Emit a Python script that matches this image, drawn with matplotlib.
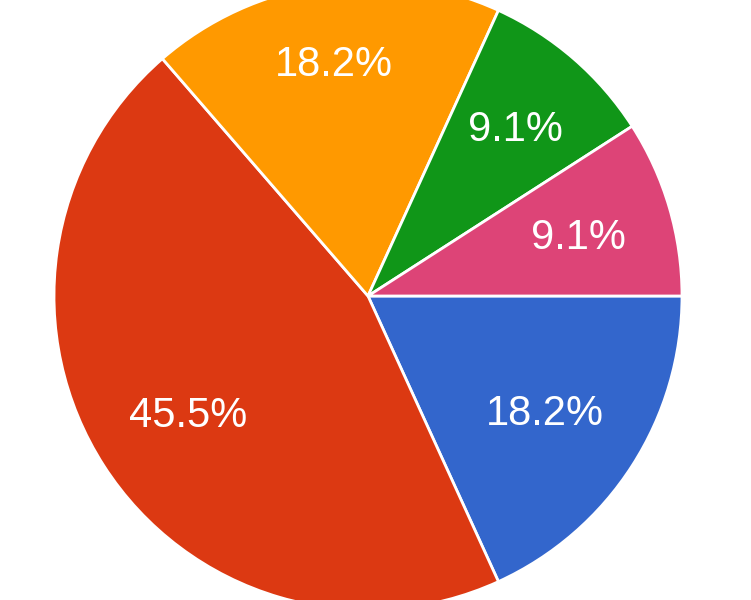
import numpy as np
import matplotlib.pyplot as plt

# slices, clockwise from 3 o'clock
labels = ["A", "B", "C", "D", "E"]
values = [2, 5, 2, 1, 1]
colors = ["#3366CC", "#DC3912", "#FF9900", "#109618", "#DD4477"]
label_dist = [0.67, 0.68, 0.755, 0.715, 0.70]

plt.rcParams["font.family"] = ["Liberation Sans", "DejaVu Sans"]

fig = plt.figure(figsize=(7.51, 6.0), dpi=100)
ax = fig.add_axes([0, 0, 1, 1])

wedges, texts, autotexts = ax.pie(
    values,
    colors=colors,
    startangle=0,
    counterclock=False,
    autopct="%.1f%%",
    pctdistance=0.68,
    wedgeprops=dict(edgecolor="white", linewidth=2.0),
    textprops=dict(color="white", fontsize=30),
)

# push labels of each slice out a little like the original
for w, t, d in zip(wedges, autotexts, label_dist):
    ang = np.deg2rad((w.theta1 + w.theta2) / 2)
    t.set_position((d * np.cos(ang), d * np.sin(ang) - 0.013))

# centre at pixel (368, 296), radius 314 px
r = 314.0
ax.set_xlim(-368 / r, (751 - 368) / r)
ax.set_ylim(-(600 - 296) / r, 296 / r)
ax.set_aspect("auto")
ax.axis("off")

fig.savefig("out.png", dpi=100, facecolor="white")
